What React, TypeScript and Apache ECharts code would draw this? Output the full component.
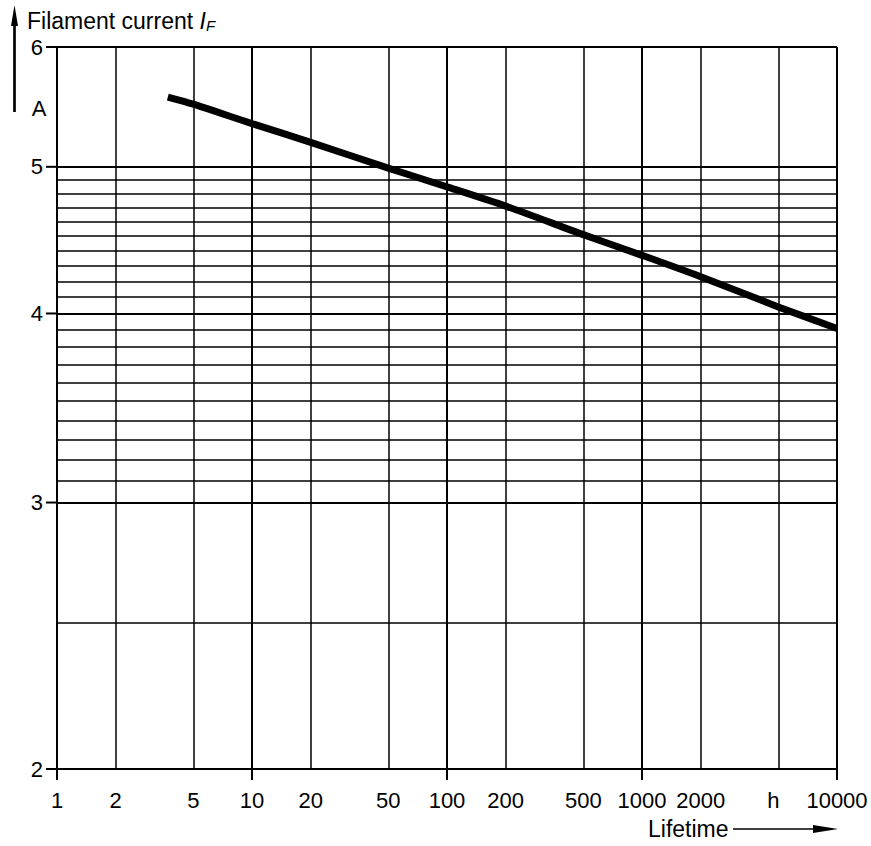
import React, { useEffect, useRef } from 'react';
import * as echarts from 'echarts';

// ---- data ----
const lifetimeH = [3.7, 5, 10, 20, 50, 100, 200, 500, 1000, 2000, 5000, 10000];
const currentA = [5.56, 5.5, 5.34, 5.19, 4.99, 4.85, 4.71, 4.51, 4.37, 4.23, 4.04, 3.91];

const xGridValues = [1, 2, 5, 10, 20, 50, 100, 200, 500, 1000, 2000, 5000, 10000];
const xTickLabels = ['1', '2', '5', '10', '20', '50', '100', '200', '500', '1000', '2000', 'h', '10000'];
const xDecades = [1, 10, 100, 1000, 10000];

const yMajorValues = [2, 3, 4, 5, 6];
const yTickLabels = ['2', '3', '4', '5', '6'];
const yMinorValues = [2.5, 3.1, 3.2, 3.3, 3.4, 3.5, 3.6, 3.7, 3.8, 3.9, 4.1, 4.2, 4.3, 4.4, 4.5, 4.6, 4.7, 4.8, 4.9];

const yTitle = 'Filament current ';
const yTitleSymbol = 'I';
const yTitleSub = 'F';
const yUnit = 'A';
const xTitle = 'Lifetime';

const NUM_FONT = "'Liberation Sans', Arial, Helvetica, sans-serif";
const TEXT_FONT = "'Liberation Sans', Arial, Helvetica, sans-serif";
const NUM_SIZE = 22;

export default function App() {
  const ref = useRef<HTMLDivElement>(null);

  useEffect(() => {
    if (!ref.current) return;
    const chart = echarts.init(ref.current, undefined, { renderer: 'svg' });

    const vLines = xGridValues.map((v, i) => ({
      xAxis: v,
      lineStyle: { color: '#000', width: xDecades.includes(v) ? 2 : 1.5, type: 'solid' },
      label: {
        show: true,
        position: 'start',
        distance: 20,
        formatter: () => xTickLabels[i],
        color: '#000',
        fontFamily: NUM_FONT,
        fontSize: NUM_SIZE,
        offset: xTickLabels[i] === 'h' ? [-5, 0] : [0, 0],
      },
    }));

    const hMajor = yMajorValues.map((v, i) => ({
      yAxis: v,
      lineStyle: { color: '#000', width: 2, type: 'solid' },
      label: {
        show: true,
        position: 'start',
        distance: 0,
        formatter: () => `{v|${yTickLabels[i]}}{s|}{t|}`,
        rich: {
          v: { fontFamily: NUM_FONT, fontSize: NUM_SIZE, color: '#000' },
          s: { width: 3 },
          t: { width: 11, height: 2, backgroundColor: '#000' },
        },
      },
    }));

    const hMinor = yMinorValues.map((v) => ({
      yAxis: v,
      lineStyle: { color: '#000', width: 1.5, type: 'solid' },
      label: { show: false },
    }));

    const option: any = {
      animation: false,
      backgroundColor: '#ffffff',
      grid: { left: 57, top: 47, width: 780, height: 722, containLabel: false },
      xAxis: {
        type: 'log',
        logBase: 10,
        min: 1,
        max: 10000,
        axisLine: { show: true, onZero: false, lineStyle: { color: '#000', width: 2 } },
        axisTick: { show: true, length: 11, lineStyle: { color: '#000', width: 2 } },
        axisLabel: { show: false },
        splitLine: { show: false },
        minorTick: { show: false },
      },
      yAxis: {
        type: 'log',
        logBase: 10,
        min: 2,
        max: 6,
        axisLine: { show: true, onZero: false, lineStyle: { color: '#000', width: 2 } },
        axisTick: { show: false },
        axisLabel: { show: false },
        splitLine: { show: false },
      },
      series: [
        {
          name: 'grid',
          type: 'line',
          data: [],
          silent: true,
          z: 1,
          markLine: {
            silent: true,
            z: 1,
            symbol: ['none', 'none'],
            animation: false,
            emphasis: { disabled: true },
            data: [...vLines, ...hMinor, ...hMajor],
          },
        },
        {
          name: 'curve',
          type: 'line',
          data: lifetimeH.map((h, i) => [h, currentA[i]]),
          showSymbol: false,
          symbol: 'none',
          smooth: 0.25,
          silent: true,
          z: 10,
          lineStyle: { color: '#000', width: 7, cap: 'butt' },
        },
      ],
      graphic: [
        {
          type: 'line',
          shape: { x1: 14.5, y1: 22, x2: 14.5, y2: 112 },
          style: { stroke: '#000', lineWidth: 2.7 },
        },
        {
          type: 'polygon',
          shape: { points: [[14.5, 5], [11, 26], [18, 26]] },
          style: { fill: '#000' },
        },
        {
          type: 'text',
          x: 27,
          y: 21,
          style: {
            text: `{a|${yTitle}}{i|${yTitleSymbol}}{s|${yTitleSub}}`,
            verticalAlign: 'middle',
            rich: {
              a: { fontFamily: TEXT_FONT, fontSize: 23, lineHeight: 23, fill: '#000' },
              i: { fontFamily: TEXT_FONT, fontSize: 23, lineHeight: 23, fontStyle: 'italic', fill: '#000' },
              s: { fontFamily: TEXT_FONT, fontSize: 15, lineHeight: 18, fontStyle: 'italic', verticalAlign: 'bottom', fill: '#000' },
            },
          },
        },
        {
          type: 'text',
          x: 39,
          y: 108,
          style: { text: yUnit, fontFamily: NUM_FONT, fontSize: NUM_SIZE, align: 'center', verticalAlign: 'middle', fill: '#000' },
        },
        {
          type: 'text',
          x: 648,
          y: 829,
          style: { text: xTitle, fontFamily: TEXT_FONT, fontSize: 23, align: 'left', verticalAlign: 'middle', fill: '#000' },
        },
        {
          type: 'line',
          shape: { x1: 733, y1: 829, x2: 817, y2: 829 },
          style: { stroke: '#000', lineWidth: 1.5 },
        },
        {
          type: 'polygon',
          shape: { points: [[813, 825], [838, 829], [813, 833]] },
          style: { fill: '#000' },
        },
      ],
    };

    chart.setOption(option);
    return () => chart.dispose();
  }, []);

  return (
    <div
      ref={ref}
      style={{ position: 'fixed', left: 0, top: 0, width: 871, height: 846, background: '#fff' }}
    />
  );
}
